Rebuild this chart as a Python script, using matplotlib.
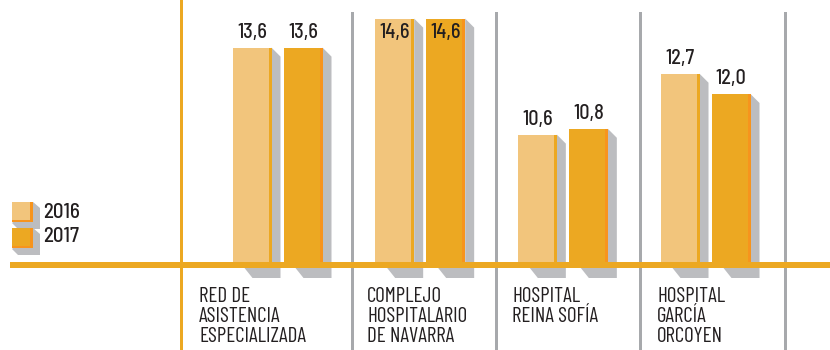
import numpy as np
import matplotlib
matplotlib.use("Agg")
import matplotlib.pyplot as plt
from matplotlib.patches import Polygon, Rectangle

# data
categories = ["RED DE\nASISTENCIA\nESPECIALIZADA",
              "COMPLEJO\nHOSPITALARIO\nDE NAVARRA",
              "HOSPITAL\nREINA SOFÍA",
              "HOSPITAL\nGARCÍA\nORCOYEN"]
years = ["2016", "2017"]
values_2016 = [13.6, 14.6, 10.6, 12.7]
values_2017 = [13.6, 14.6, 10.8, 12.0]

# colours
light = "#F2C57C"
gold = "#ECA822"
dark = "#F7941D"
shadow = "#BCBDC0"
sep_grey = "#A7A9AC"
txt = "#231F20"

semi = ['Barlow Semi Condensed', 'Barlow Condensed', 'DejaVu Sans']
cond = ['Barlow Condensed', 'Barlow Semi Condensed', 'DejaVu Sans']
plt.rcParams['font.family'] = semi

W, H = 830, 350
fig = plt.figure(figsize=(W / 100, H / 100), dpi=100)
ax = fig.add_axes([0, 0, 1, 1])
ax.axis("off")

# scale: one group step = 142.67 px, one value unit = 29 px
xstep = 142.67
x0px = 277.5
ystep = 29.0
y0px = 442.0
ax.set_xlim(-x0px / xstep, (W - x0px) / xstep)
ax.set_ylim((y0px - H) / ystep, y0px / ystep)

def PX(px):
    return (px - x0px) / xstep

def PY(py):
    return (y0px - py) / ystep

dx = 1 / xstep
dy = 1 / ystep
base = PY(265)

bw = 39 * dx
off = 25.5 * dx
x = np.arange(len(categories))

def draw_bars(xs, vals, fill, edge):
    for xc, v in zip(xs, vals):
        xl = xc - bw / 2
        xr = xc + bw / 2
        # shadow
        pts = [(xr, v), (xr + 9 * dx, v - 9 * dy), (xr + 9 * dx, base - 13 * dy),
               (xl + 20 * dx, base - 13 * dy), (xl + 12 * dx, base - 3 * dy), (xr, base)]
        ax.add_patch(Polygon(pts, closed=True, color=shadow, lw=0, zorder=1))
    ax.bar(xs, np.array(vals) - base, bottom=base, width=bw, color=fill, lw=0, zorder=2)
    ax.bar(xs + bw / 2 - 1.5 * dx, np.array(vals) - base + 2 * dy, bottom=base - 2 * dy,
           width=3 * dx, color=edge, lw=0, zorder=3)
    for xc, v in zip(xs, vals):
        ly = min(v + 15 * dy, PY(33))
        ax.text(xc, ly, f"{v:.1f}".replace(".", ","), ha="center", va="center",
                fontsize=14.5, color=txt, fontweight="medium", zorder=5)

draw_bars(x - off, values_2016, light, gold)
draw_bars(x + off, values_2017, gold, dark)

# baseline and vertical axis line
ax.add_patch(Rectangle((PX(10), PY(268)), PX(830) - PX(10), 6 * dy, color=gold, lw=0, zorder=4))
ax.add_patch(Rectangle((PX(180), PY(350)), 3 * dx, 350 * dy, color=gold, lw=0, zorder=4))

# grey separators
for sx in [350.5, 494.5, 639, 784]:
    ax.add_patch(Rectangle((PX(sx), PY(350)), 3 * dx, 338 * dy, color=sep_grey, lw=0, zorder=0))

# category labels
for lx, lab in zip([199, 367, 512, 657], categories):
    ax.text(PX(lx), PY(287), lab, ha="left", va="top", fontsize=15.2, color=txt,
            family=cond, linespacing=1.08, zorder=5)

# legend
for i, (yr, fill) in enumerate(zip(years, [light, gold])):
    top = 202 + i * 26
    ax.add_patch(Polygon([(PX(33), PY(top)), (PX(40), PY(top + 6)), (PX(40), PY(top + 27)),
                          (PX(18), PY(top + 27)), (PX(12), PY(top + 21))],
                         closed=True, color=shadow, lw=0, zorder=1))
    ax.add_patch(Rectangle((PX(12), PY(top + 20)), 21 * dx, 20 * dy, color=fill, lw=0, zorder=2))
    ax.add_patch(Rectangle((PX(30), PY(top + 20)), 3 * dx, 20 * dy, color=dark, lw=0, zorder=3))
    ax.add_patch(Rectangle((PX(12), PY(top + 20)), 21 * dx, 2.5 * dy, color=dark, lw=0, zorder=3))
    ax.text(PX(43), PY(top + 11 - 2 * i), yr, ha="left", va="center", fontsize=15,
            fontweight="medium", color=txt)

fig.savefig("out.png", dpi=100)
